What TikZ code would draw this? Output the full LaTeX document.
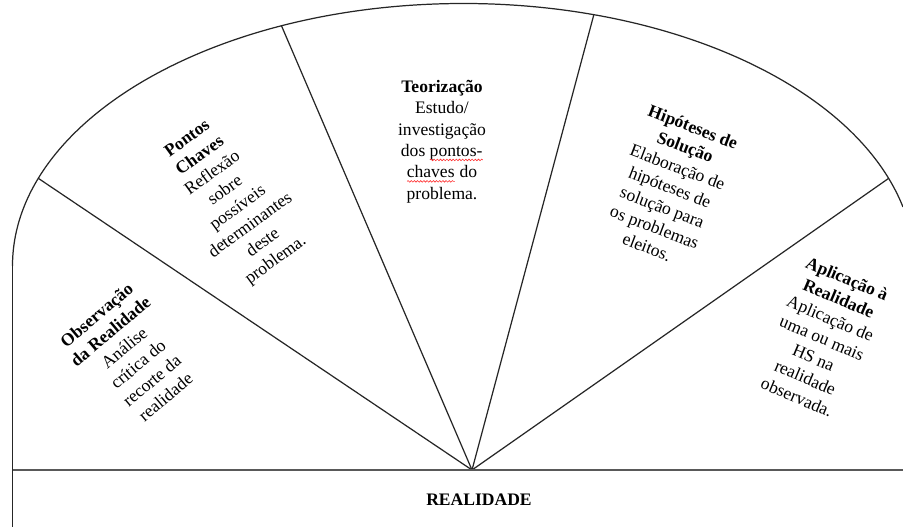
\documentclass[tikz,border=0pt]{standalone}
\usepackage{fontspec}
\setmainfont{Liberation Serif}
\usetikzlibrary{calc}
\usetikzlibrary{decorations.pathmorphing}

% red spell-check wave under a word
\newlength{\spellw}
\newcommand{\spellwave}[1]{\settowidth{\spellw}{#1}\rlap{#1}\raisebox{-2.6pt}{\tikz\draw[red!80, line width=0.35pt, decorate, decoration={snake, amplitude=0.45pt, segment length=1.8pt}] (0pt,0pt) -- (\spellw,0pt);}}

\tikzset{
  rim/.style={line width=0.7pt, black!85},
  ground/.style={line width=1.3pt, black!65},
  stage/.style={align=center, inner sep=0pt, font=\fontsize{10}{12.2}\selectfont},
}

\begin{document}
\begin{tikzpicture}[x=0.02cm, y=0.02cm]
	\useasboundingbox (0,0) rectangle (903,527);
	
	% centre of the fan and of the arc
	\coordinate (C) at (472,57);
	\coordinate (E) at (463.5,261);
	
	% outer arc
	\draw[rim] (12.5,261) arc[start angle=180, end angle=13, x radius=451, y radius=262.5];
	% left side
	\draw[rim] (12.5,261) -- (12.5,0);
	
	% spokes
	\coordinate (s1) at ($(E)+(160.5:451 and 262.5)$);
	\coordinate (s2) at ($(E)+(113.8:451 and 262.5)$);
	\coordinate (s3) at ($(E)+(73.2:451 and 262.5)$);
	\coordinate (s4) at ($(E)+(19.5:451 and 262.5)$);
	\draw[rim] (C) -- (s1);
	\draw[rim] (C) -- (s2);
	\draw[rim] (C) -- (s3);
	\draw[rim] (C) -- (s4);
	
	% ground line
	\draw[ground] (12.5,57) -- (903,57);
	
	% stages
	\node[stage, rotate=40] (obs) at (131,171)
		{\textbf{Observação}\\\textbf{da Realidade}\\Análise\\crítica do\\recorte da\\realidade};
	\node[stage, rotate=36] (pontos) at (232,327)
		{\textbf{Pontos}\\\textbf{Chaves}\\Reflexão\\sobre\\possíveis\\determinantes\\deste\\problema.};
	\node[stage] (teo) at (442,385.5)
		{\textbf{Teorização}\\Estudo/\\investigação\\dos \spellwave{pontos-}\\\spellwave{chaves} do\\problema.};
	\node[stage, rotate=-21] (hip) at (670,340)
		{\textbf{Hipóteses de}\\\textbf{Solução}\\Elaboração de\\hipóteses de\\solução para\\os problemas\\eleitos.};
	\node[stage, rotate=-23] (apl) at (822,189)
		{\textbf{Aplicação à}\\\textbf{Realidade}\\Aplicação de\\uma ou mais\\HS na\\realidade\\observada.};
	
	\node[stage] (real) at (479,27) {\textbf{REALIDADE}};
	
\end{tikzpicture}
\end{document}
